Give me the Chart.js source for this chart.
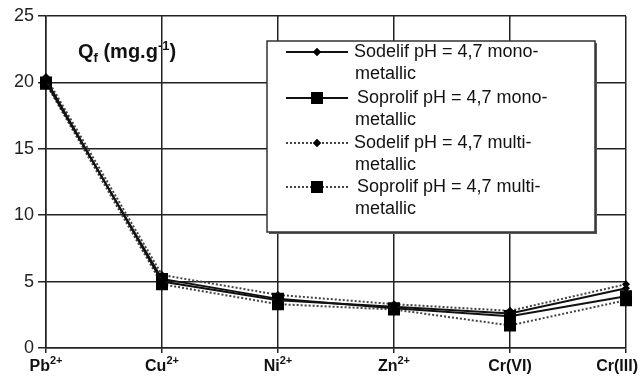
<!DOCTYPE html>
<html>
<head>
<meta charset="utf-8">
<script src="https://cdn.jsdelivr.net/npm/chart.js@4"></script>
<style>
html,body{margin:0;padding:0;background:#fff;}
#c{display:block;}
</style>
</head>
<body>
<canvas id="c" width="640" height="378"></canvas>
<script>
// ---- data ----
const catBase = ['Pb', 'Cu', 'Ni', 'Zn', 'Cr(VI)', 'Cr(III)'];
const catSup  = ['2+', '2+', '2+', '2+', '', ''];
const sodelifMono   = [20.2, 5.0, 3.6, 3.1, 2.6, 4.5];
const soprolifMono  = [20.0, 5.2, 3.7, 3.0, 2.4, 3.9];
const sodelifMulti  = [20.4, 5.5, 4.0, 3.3, 2.8, 4.8];
const soprolifMulti = [19.9, 4.8, 3.3, 2.9, 1.7, 3.6];
const yTicks = [0, 5, 10, 15, 20, 25];
const legendLines = [
  ['Sodelif pH = 4,7 mono-', 'metallic'],
  ['Soprolif pH = 4,7 mono-', 'metallic'],
  ['Sodelif pH = 4,7 multi-', 'metallic'],
  ['Soprolif pH = 4,7 multi-', 'metallic']
];
const FONT = '"Liberation Sans", Arial, Helvetica, sans-serif';

const labels = catBase.map((b, i) => b + catSup[i]);

function ds(label, data, solid, square) {
  return {
    label: label,
    data: data,
    borderColor: solid ? '#111' : '#444',
    borderWidth: 2,
    borderDash: solid ? [] : [2, 2],
    pointStyle: square ? 'rect' : 'rectRot',
    pointRadius: square ? 8.5 : 4,
    pointBackgroundColor: '#000',
    pointBorderColor: '#000',
    pointBorderWidth: 0,
    tension: 0,
    fill: false
  };
}

const datasets = [
  ds(legendLines[0].join(''), sodelifMono, true, false),
  ds(legendLines[1].join(''), soprolifMono, true, true),
  ds(legendLines[2].join(''), sodelifMulti, false, false),
  ds(legendLines[3].join(''), soprolifMulti, false, true)
];

function drawSupText(ctx, x, y, base, sup, size, supSize, align) {
  ctx.font = 'bold ' + size + 'px ' + FONT;
  const wb = ctx.measureText(base).width;
  ctx.font = 'bold ' + supSize + 'px ' + FONT;
  const ws = sup ? ctx.measureText(sup).width : 0;
  const total = wb + ws;
  let sx = align === 'center' ? x - total / 2 : x;
  if (sx + total > 638) sx = 638 - total;
  ctx.textAlign = 'left';
  ctx.textBaseline = 'alphabetic';
  ctx.font = 'bold ' + size + 'px ' + FONT;
  ctx.fillText(base, sx, y);
  if (sup) {
    ctx.font = 'bold ' + supSize + 'px ' + FONT;
    ctx.fillText(sup, sx + wb, y - size * 0.42);
  }
}

const customPlugin = {
  id: 'custom',
  afterDraw(chart) {
    const ctx = chart.ctx;
    const xs = chart.scales.x;
    ctx.save();
    ctx.fillStyle = '#111';
    // x labels
    labels.forEach((l, i) => {
      const px = xs.getPixelForValue(i);
      drawSupText(ctx, px, 371, catBase[i], catSup[i], 16, 11, 'center');
    });
    // title Qf (mg.g-1)
    ctx.textBaseline = 'alphabetic';
    ctx.textAlign = 'left';
    let x = 78, y = 58;
    ctx.font = 'bold 20px ' + FONT;
    ctx.fillText('Q', x, y); x += ctx.measureText('Q').width;
    ctx.font = 'bold 13px ' + FONT;
    ctx.fillText('f', x, y + 4); x += ctx.measureText('f').width;
    ctx.font = 'bold 20px ' + FONT;
    ctx.fillText(' (mg.g', x, y); x += ctx.measureText(' (mg.g').width;
    ctx.font = 'bold 13px ' + FONT;
    ctx.fillText('-1', x, y - 8); x += ctx.measureText('-1').width;
    ctx.font = 'bold 20px ' + FONT;
    ctx.fillText(')', x, y);

    // legend box
    const bx = 267, by = 41, bw = 328, bh = 191;
    ctx.fillStyle = '#555';
    ctx.fillRect(bx + 2, by + 2, bw, bh);
    ctx.fillStyle = '#fff';
    ctx.fillRect(bx, by, bw, bh);
    ctx.strokeStyle = '#333';
    ctx.lineWidth = 1.5;
    ctx.strokeRect(bx, by, bw, bh);

    ctx.font = '18px ' + FONT;
    ctx.textBaseline = 'middle';
    ctx.fillStyle = '#111';
    const rowY = [52, 98, 143, 187];
    chart.data.datasets.forEach((d, i) => {
      const yy = rowY[i];
      ctx.save();
      ctx.strokeStyle = d.borderColor;
      ctx.lineWidth = d.borderWidth;
      ctx.setLineDash(d.borderDash);
      ctx.beginPath();
      ctx.moveTo(286, yy);
      ctx.lineTo(348, yy);
      ctx.stroke();
      ctx.restore();
      ctx.save();
      ctx.fillStyle = '#000';
      Chart.helpers.drawPoint(ctx, { pointStyle: d.pointStyle, radius: d.pointRadius, borderWidth: 0 }, 317, yy);
      ctx.fill();
      ctx.restore();
      ctx.fillStyle = '#111';
      const tx = d.pointStyle === 'rect' ? 357 : 354;
      ctx.fillText(legendLines[i][0], tx, yy);
      ctx.fillText(legendLines[i][1], 355, yy + 22);
    });
    ctx.restore();
  }
};

new Chart(document.getElementById('c'), {
  type: 'line',
  data: { labels: labels, datasets: datasets },
  options: {
    responsive: false,
    animation: false,
    layout: { padding: { left: 0, right: 14, top: 16, bottom: 0 } },
    plugins: { legend: { display: false }, tooltip: { enabled: false } },
    scales: {
      x: {
        type: 'category',
        offset: false,
        grid: { color: '#222', lineWidth: 1.5, tickLength: 5, drawTicks: true },
        border: { color: '#222', width: 1.5 },
        ticks: { display: false },
        afterFit(s) { s.height = 30; s.paddingLeft = 0; s.paddingRight = 0; }
      },
      y: {
        min: 0, max: 25,
        afterBuildTicks(s) { s.ticks = yTicks.map(v => ({ value: v })); },
        grid: { color: '#222', lineWidth: 1.5, tickLength: 8 },
        border: { color: '#222', width: 1.5 },
        ticks: { color: '#222', padding: 4, font: { family: FONT, size: 18 } },
        afterFit(s) { s.width = 46; }
      }
    }
  },
  plugins: [customPlugin]
});
</script>
</body>
</html>
